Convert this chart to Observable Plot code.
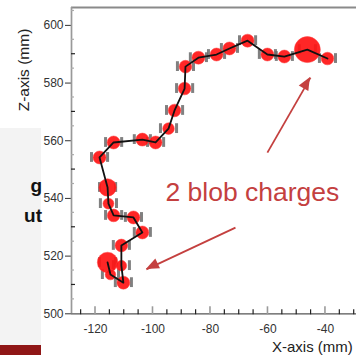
<!DOCTYPE html>
<html><head><meta charset="utf-8">
<script src="https://cdn.jsdelivr.net/npm/d3@7"></script>
<script src="https://cdn.jsdelivr.net/npm/@observablehq/plot@0.6"></script>
<style>
html,body{margin:0;padding:0;background:#fff;overflow:hidden;}
#wrap{position:relative;width:356px;height:355px;overflow:hidden;font-family:"Liberation Sans",Arial,sans-serif;}
#chart{position:absolute;left:0;top:0;}
.ov{position:absolute;white-space:nowrap;line-height:1;}
</style></head><body>
<div id="wrap">
  <div class="ov" style="left:0;top:128px;width:41px;height:217px;background:#f3f3f3"></div>
  <div id="chart"></div>
  <div class="ov" style="left:24px;top:70px;font-size:15.5px;color:#222;transform:translate(-50%,-50%) rotate(-90deg);">Z-axis (mm)</div>
  <div class="ov" style="left:272px;top:339px;font-size:15px;color:#222;">X-axis (mm)</div>
  <div class="ov" style="left:0;top:176px;width:42px;text-align:right;font-size:19px;font-weight:bold;color:#111;">g</div>
  <div class="ov" style="left:0;top:206px;width:42px;text-align:right;font-size:19px;font-weight:bold;color:#111;">ut</div>
  <div class="ov" style="left:0;top:345px;width:41px;height:10px;background:#8f1616"></div>
</div>
<script>
// Track points (X in mm, Z in mm) and deposited charge (arbitrary units)
const trackX = [-115.8,-114.8,-110.3,-111.0,-111.0,-103.7,-106.8,-113.7,-115.5,-115.8,-118.6,-113.7,-103.7,-99.1,-94.6,-92.5,-89.0,-88.7,-84.2,-77.9,-73.4,-67.1,-60.2,-54.3,-46.3,-39.3];
const trackZ = [517.8,513.6,510.8,516.7,523.7,528.2,533.4,534.1,538.2,543.8,554.2,559.4,560.4,559.4,564.2,570.5,578.1,585.7,588.8,589.9,592.0,594.7,589.9,589.2,591.6,588.5];
const charge = [105,28,42,28,40,42,42,40,30,76,42,42,42,42,34,40,40,40,42,42,42,42,42,42,169,40];
const xErr = 2.8;
const zErr = 1.7;

// Axes
const xDomain = [-128.35, -29.2];
const zDomain = [500, 606.2];
const xTickValues = [-120, -100, -80, -60, -40];
const zTickValues = [500, 520, 540, 560, 580, 600];
const xMinor = d3.range(-125, -29, 5);
const zMinor = d3.range(505, 606, 5);

// Annotation
const noteText = ["2 blob charges"];
const noteX = [-95.65];
const noteZ = [541.9];
const arrowFromX = [-60.2, -71.3];
const arrowFromZ = [555.9, 529.9];
const arrowToX = [-45.2, -102.3];
const arrowToZ = [581.9, 515.4];

const rows = trackX.map((x, i) => ({x, z: trackZ[i], q: charge[i]}));
const arrows = arrowFromX.map((x1, i) => ({x1, z1: arrowFromZ[i], x2: arrowToX[i], z2: arrowToZ[i]}));
const notes = noteText.map((t, i) => ({t, x: noteX[i], z: noteZ[i]}));
const annColor = "#c4403f";

function frameTicks(index, scales) {
  const x = scales.x, y = scales.y;
  const g = d3.create("svg:g");
  const x0 = x(xDomain[0]), y0 = y(zDomain[0]);
  for (const v of xMinor) {
    const major = v % 20 === 0;
    g.append("line").attr("x1", x(v)).attr("x2", x(v)).attr("y1", y0 + 1).attr("y2", y0 - (major ? 7 : 4))
      .attr("stroke", major ? "#9a9a9a" : "#222").attr("stroke-width", major ? 1.6 : 1.2);
  }
  for (const v of zMinor) {
    if (v % 20 === 0) continue;
    const mid = v % 10 === 0;
    g.append("line").attr("x1", x0).attr("x2", x0 + (mid ? 4 : 3)).attr("y1", y(v)).attr("y2", y(v))
      .attr("stroke", mid ? "#222" : "#aaa").attr("stroke-width", 1.2);
  }
  return g.node();
}

function arrowHeads(index, scales) {
  const x = scales.x, y = scales.y;
  const g = d3.create("svg:g");
  for (const a of arrows) {
    const tx = x(a.x2), ty = y(a.z2), fx = x(a.x1), fy = y(a.z1);
    const dx = tx - fx, dy = ty - fy, len = Math.hypot(dx, dy);
    const ux = dx / len, uy = dy / len, L = 13, W = 5.5;
    const bx = tx - ux * L, by = ty - uy * L;
    g.append("path")
      .attr("d", `M${tx},${ty}L${bx - uy * W},${by + ux * W}L${bx + uy * W},${by - ux * W}Z`)
      .attr("fill", annColor);
  }
  return g.node();
}

const chart = Plot.plot({
  width: 356,
  height: 355,
  marginLeft: 71,
  marginRight: 0,
  marginTop: 7,
  marginBottom: 41.7,
  style: {fontFamily: "'Liberation Sans', Arial, sans-serif", fontSize: "12px", color: "#333", background: "transparent", overflow: "visible"},
  x: {domain: xDomain, ticks: xTickValues, tickFormat: d => String(d), tickSize: 0, tickPadding: 11, label: null},
  y: {domain: zDomain, ticks: zTickValues, tickFormat: d => String(d), tickSize: 6, tickPadding: 2, label: null},
  r: {type: "sqrt", domain: [0, 169], range: [0, 13]},
  marks: [
    Plot.ruleY([zDomain[1]], {stroke: "#8a8a8a", strokeWidth: 2}),
    Plot.ruleX([xDomain[0]], {stroke: "#999", strokeWidth: 1.7}),
    Plot.ruleY([zDomain[0]], {stroke: "#555", strokeWidth: 1.3}),
    frameTicks,
    Plot.ruleX(rows, {x: d => d.x - xErr, y1: d => d.z - zErr, y2: d => d.z + zErr, stroke: "#6a6a6a", strokeWidth: 3, strokeOpacity: 0.85}),
    Plot.ruleX(rows, {x: d => d.x + xErr, y1: d => d.z - zErr, y2: d => d.z + zErr, stroke: "#6a6a6a", strokeWidth: 3, strokeOpacity: 0.85}),
    Plot.dot(rows, {x: "x", y: "z", r: "q", fill: "#ff1414", fillOpacity: 0.92, stroke: "#ff4040", strokeOpacity: 0.5, strokeWidth: 1}),
    Plot.line(rows, {x: "x", y: "z", stroke: "#111", strokeWidth: 1.8}),
    Plot.link(arrows, {x1: "x1", y1: "z1", x2: "x2", y2: "z2", stroke: annColor, strokeWidth: 1.8}),
    arrowHeads,
    Plot.text(notes, {x: "x", y: "z", text: "t", fill: annColor, fontSize: 26.5, textAnchor: "start"})
  ]
});
document.getElementById("chart").appendChild(chart);
</script>
</body></html>
